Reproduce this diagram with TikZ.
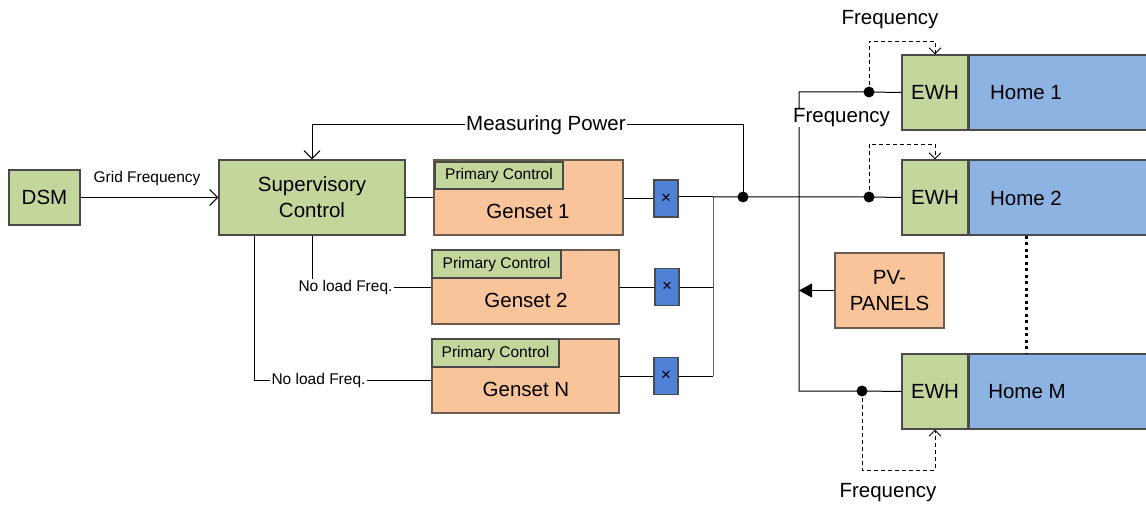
\documentclass[tikz,border=0pt]{standalone}
\usepackage{fontspec}
\setmainfont{Liberation Sans}
\usetikzlibrary{arrows.meta,calc}
\definecolor{boxgreen}{HTML}{C3D69B}
\definecolor{boxorange}{HTML}{F9C499}
\definecolor{homeblue}{HTML}{8DB3E2}
\definecolor{brkblue}{HTML}{4F81D6}
\definecolor{edgegray}{HTML}{4A4A4A}
\definecolor{edgebrown}{HTML}{6B5A4E}
\tikzset{
  big/.style={font=\fontsize{20.5}{25}\selectfont},
  small/.style={font=\fontsize{15.5}{18}\selectfont},
  greenbox/.style={draw=edgegray, fill=boxgreen, line width=1.2pt, inner sep=0pt},
  orangebox/.style={draw=edgebrown, fill=boxorange, line width=1.2pt, inner sep=0pt},
  homebox/.style={draw=edgegray, fill=homeblue, line width=1.2pt, inner sep=0pt},
  breaker/.style={draw=edgegray, fill=brkblue, line width=1.2pt, minimum width=24pt, minimum height=37pt, inner sep=0pt, font=\fontsize{17}{18}\selectfont},
  wire/.style={draw=black, line width=1pt},
  openarrow/.style={-{Straight Barb[length=8pt,width=16pt,line width=1pt]}},
  fbarrow/.style={dash pattern=on 4pt off 3pt, line width=0.9pt, -{Straight Barb[length=6pt,width=12pt,line width=0.9pt]}},
  junction/.style={circle, fill=black, inner sep=0pt, minimum size=11pt},
  lbl/.style={fill=white, inner sep=1.5pt},
}
\begin{document}
\begin{tikzpicture}[x=1pt, y=-1pt]
\useasboundingbox (0,0) rectangle (1146,505);

% control side
\node[greenbox, big, minimum width=71pt, minimum height=55pt] (dsm) at (44.5,197.5) {DSM};
\node[greenbox, big, minimum width=186pt, minimum height=75pt, align=center] (sup) at (312,197.5) {Supervisory\\[1pt]Control};

% gensets with their primary controllers
\node[orangebox, minimum width=189pt, minimum height=75pt] (g1) at (528.5,197.5) {};
\node[orangebox, minimum width=187pt, minimum height=74pt] (g2) at (525.5,287) {};
\node[orangebox, minimum width=187pt, minimum height=74pt] (gn) at (525.5,376) {};
\node[greenbox, small, minimum width=128pt, minimum height=27pt] (pc1) at (499,175.5) {Primary Control};
\node[greenbox, small, minimum width=129pt, minimum height=28pt] (pc2) at (496.5,264) {Primary Control};
\node[greenbox, small, minimum width=127pt, minimum height=28pt] (pcn) at (495.5,353) {Primary Control};
\node[big] (g1t) at (528,211) {Genset 1};
\node[big] (g2t) at (526,300.5) {Genset 2};
\node[big] (gnt) at (526,389.5) {Genset N};

% breakers
\node[breaker] (b1) at (666,198.5) {×};
\node[breaker] (b2) at (667,287) {×};
\node[breaker] (bn) at (666,376) {×};

% homes and their water heaters
\node[greenbox, big, minimum width=66pt, minimum height=75pt] (ewh1) at (935,92.5) {EWH};
\node[greenbox, big, minimum width=66pt, minimum height=75pt] (ewh2) at (935,197.5) {EWH};
\node[greenbox, big, minimum width=66pt, minimum height=75pt] (ewhm) at (935,391.5) {EWH};
\node[homebox, minimum width=180pt, minimum height=75pt, anchor=west] (h1) at (ewh1.east) {};
\node[homebox, minimum width=180pt, minimum height=75pt, anchor=west] (h2) at (ewh2.east) {};
\node[homebox, minimum width=180pt, minimum height=75pt, anchor=west] (hm) at (ewhm.east) {};
\node[big] (h1t) at (1026,93) {Home 1};
\node[big] (h2t) at (1026,198) {Home 2};
\node[big] (hmt) at (1027,392) {Home M};
\node[orangebox, big, minimum width=109pt, minimum height=75pt, align=center] (pv) at (889.5,290.5) {PV-\\[1pt]PANELS};

% junctions and corner points
\coordinate (busTop) at (713,197);
\coordinate (busBot) at (713,376);
\node[junction] (jm) at (743,197) {};
\node[junction] (j1) at (869,92) {};
\node[junction] (j2) at (869,197) {};
\node[junction] (jM) at (862,391) {};
\coordinate (fTop) at (799,92);
\coordinate (fBot) at (799,391);
\coordinate (fPV) at (799,290.5);

% labels on lines
\node[small] (gridf) at (147,178) {Grid Frequency};
\node[small, inner sep=1pt] (nl2) at (345.5,287.5) {No load Freq.};
\node[small, inner sep=1pt] (nln) at (318.5,380) {No load Freq.};
\node[big, lbl] (meas) at (546,125) {Measuring Power};

% DSM to supervisory control
\draw[wire, openarrow] (dsm.east) -- (sup.west);
% measured power fed back
\draw[wire, openarrow] (jm.center) |- (meas.east) (meas.west) -| (sup.north);
% set points towards the gensets
\draw[wire] (sup.east) -- (g1.west);
\draw[wire] (sup.south) -- (sup.south |- nl2.north);
\draw[wire] (nl2.east) -- (nl2.east -| g2.west);
\draw[wire] (sup.south west) ++(36,0) |- (nln.west);
\draw[wire] (nln.east) -- (nln.east -| gn.west);

% gensets through breakers to the bus
\draw[wire] (g1.east |- b1) -- (b1.west);
\draw[wire] (g2.east |- b2) -- (b2.west);
\draw[wire] (gn.east |- bn) -- (bn.west);
\draw[wire] (b1.east |- busTop) -- (busTop);
\draw[wire] (b2.east) -- (b2.east -| busTop);
\draw[wire] (bn.east) -- (busBot);
\draw[wire, draw=black!60] (busTop) -- (busBot);

% distribution feeder
\draw[wire] (busTop) -- (jm.center) -- (j2.center) -- (ewh2.west);
\draw[wire] (ewh1.west) -- (j1.center) -- (fTop) -- (fBot) -- (jM.center) -- (ewhm.west);
\draw[wire, -{Triangle[length=13pt,width=14pt]}] (pv.west) -- (fPV);
\node[big, lbl, inner sep=0.5pt] (fmid) at (841.5,117.5) {Frequency};

% frequency sensing by the water heaters
\draw[fbarrow] (j1.center) -- ++(0,-51) -| (ewh1.north);
\draw[fbarrow] (j2.center) -- ++(0,-53) -| (ewh2.north);
\draw[fbarrow] (jM.center) -- ++(0,79) -| (ewhm.south);
\node[big] (ftop) at (890,20) {Frequency};
\node[big] (fbot) at (888,493) {Frequency};

% further homes in between
\draw[line width=3pt, dash pattern=on 3pt off 3.5pt] (h2.south -| h2t) -- (hm.north -| h2t);
\end{tikzpicture}
\end{document}
